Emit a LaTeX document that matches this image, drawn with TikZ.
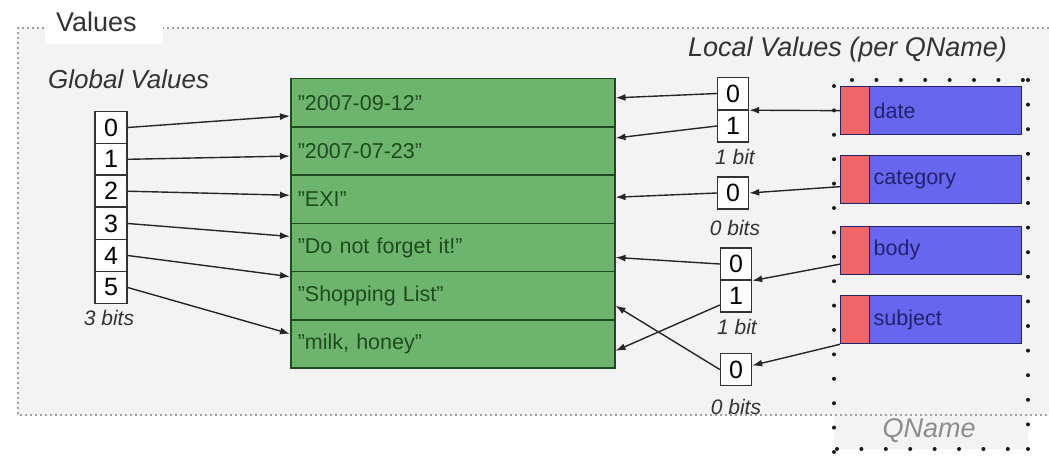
\documentclass[tikz,border=0pt]{standalone}
\usepackage{fontspec}
\setmainfont{Liberation Sans}
\usetikzlibrary{arrows.meta,calc}
\definecolor{bgg}{HTML}{F3F3F3}
\definecolor{frameg}{HTML}{A0A0A0}
\definecolor{grn}{HTML}{6DB56D}
\definecolor{dgrn}{HTML}{1F4A1F}
\definecolor{redq}{HTML}{F06666}
\definecolor{blueq}{HTML}{6666EE}
\definecolor{navy}{HTML}{22226E}
\definecolor{txtg}{HTML}{333333}
\newcommand\fsz[1]{\fontsize{#1}{#1}\selectfont}
\begin{document}
\begin{tikzpicture}[x=1pt,y=-1pt,
  numbox/.style={draw=black!80, line width=1.4pt, fill=white, minimum width=32pt, minimum height=32pt, inner sep=0pt, font=\fsz{25}},
  vrow/.style={draw=dgrn, line width=1.5pt, fill=grn, minimum height=48.2pt, text width=310pt, inner xsep=7pt, align=left, text=dgrn, font=\fsz{21.5}, anchor=north west},
  redbox/.style={draw=navy, line width=1.3pt, fill=redq, minimum width=29pt, minimum height=48pt, inner sep=0pt, anchor=north west},
  bluebox/.style={draw=navy, line width=1.3pt, fill=blueq, minimum height=48pt, text width=144pt, inner xsep=4pt, align=left, text=navy, font=\fsz{21.5}, anchor=north west},
  arr/.style={draw=black!85, line width=1.4pt, -{Latex[length=10pt,width=7pt]}},
  bitlbl/.style={text=txtg, font=\fsz{21}\itshape},
  qdot/.style={fill=black!90}
]
\useasboundingbox (0,0) rectangle (1049,457);
% Values frame
\fill[bgg] (18,28) rectangle (1049,415);
\fill[bgg] (834,80) rectangle (1028,449);
\draw[frameg, line width=1.4pt, dash pattern=on 1.6pt off 3.4pt] (1049,28) -- (18,28) -- (18,415) -- (1049,415);
\node[fill=white, minimum width=118pt, minimum height=44pt, anchor=north west, inner sep=0pt] (valbg) at (45,0) {};
\node[text=txtg, font=\fsz{27}, anchor=west, inner sep=0pt] (valuesttl) at (56,22) {Values};
% QName frame dots
\foreach \k in {0,...,7} {
  \fill[qdot] (852+24.4*\k,80) circle (2);
  \fill[qdot] (837+24.4*\k,449) circle (2);
}
\foreach \k in {0,...,15} {
  \fill[qdot] (834,86+24.4*\k) circle (2);
  \fill[qdot] (1028,80+24.6*\k) circle (2);
}
\node[text=black!45, font=\fsz{27}\itshape] (qnamelbl) at (929,431) {QName};
% Titles
\node[text=txtg, font=\fsz{26}\itshape, anchor=west, inner sep=0pt] (gvt) at (48,79) {Global Values};
\node[text=txtg, font=\fsz{27}\itshape, anchor=west, inner sep=0pt] (lvt) at (688,50) {Local Values (per QName)};
% Global boxes
\node[numbox] (g0) at (111,127.5) {0};
\node[numbox] (g1) at (111,159.3) {1};
\node[numbox] (g2) at (111,191.2) {2};
\node[numbox] (g3) at (111,223.5) {3};
\node[numbox] (g4) at (111,255.5) {4};
\node[numbox] (g5) at (111,287.5) {5};
\node[bitlbl] (gbits) at (109,318) {3 bits};
% Green values table
\node[vrow] (v0) at (290,78) {"2007-09-12"};
\node[vrow] (v1) at (290,126.2) {"2007-07-23"};
\node[vrow] (v2) at (290,174.4) {"EXI"};
\node[vrow] (v3) at (290,222.6) {"Do not forget it!"};
\node[vrow] (v4) at (290,270.8) {"Shopping List"};
\node[vrow] (v5) at (290,319) {"milk, honey"};
% Global arrows
\draw[arr] (g0.east) -- ($(v0.west)+(0,13)$);
\draw[arr] (g1.east) -- ($(v1.west)+(0,5)$);
\draw[arr] (g2.east) -- ($(v2.west)+(0,-4)$);
\draw[arr] (g3.east) -- ($(v3.west)+(0,-11)$);
\draw[arr] (g4.east) -- ($(v4.west)+(0,-19)$);
\draw[arr] (g5.east) -- ($(v5.west)+(0,-10)$);
% Local boxes
\node[numbox, minimum width=31pt] (l1a) at (733,93.5) {0};
\node[numbox, minimum width=31pt] (l1b) at (733,126) {1};
\node[bitlbl] (l1bits) at (735,157) {1 bit};
\node[numbox, minimum width=31pt] (l2) at (733,193) {0};
\node[bitlbl] (l2bits) at (735,228) {0 bits};
\node[numbox, minimum width=31pt] (l3a) at (736,264) {0};
\node[numbox, minimum width=31pt] (l3b) at (736,296) {1};
\node[bitlbl] (l3bits) at (737,327) {1 bit};
\node[numbox, minimum width=31pt] (l4) at (736,369.5) {0};
\node[bitlbl] (l4bits) at (736,407) {0 bits};
% Local arrows
\draw[arr] (l1a.west) -- ($(v0.east)+(0,-5)$);
\draw[arr] (l1b.west) -- ($(v1.east)+(0,-13)$);
\draw[arr] (l2.west) -- ($(v2.east)+(0,-2)$);
\draw[arr] (l3a.west) -- ($(v3.east)+(0,10)$);
\draw[arr] ($(l3b.west)+(0,9)$) -- ($(v5.east)+(0,7)$);
\draw[arr] (l4.west) -- ($(v4.east)+(0,10)$);
% QName entries
\node[redbox] (rdate) at (840,86) {};
\node[bluebox] (bdate) at (869,86) {date};
\node[redbox] (rcat) at (840,155) {};
\node[bluebox] (bcat) at (869,155) {category};
\node[redbox] (rbody) at (840,225.5) {};
\node[bluebox] (bbody) at (869,225.5) {body};
\node[redbox] (rsubj) at (840,295) {};
\node[bluebox] (bsubj) at (869,295) {subject};
% QName arrows
\draw[arr] (rdate.west) -- (l1a.south east);
\draw[arr] ($(rcat.west)+(0,7)$) -- (l2.east);
\draw[arr] ($(rbody.west)+(0,14)$) -- (l3a.south east);
\draw[arr] (rsubj.south west) -- ($(l4.east)+(0,-4)$);
\end{tikzpicture}
\end{document}
